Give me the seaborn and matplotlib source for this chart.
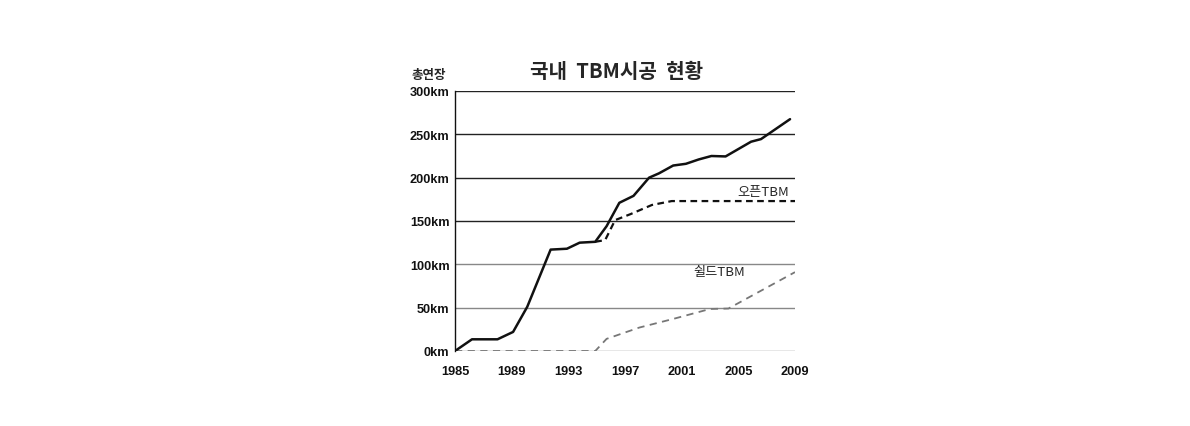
import matplotlib
matplotlib.use("Agg")
import matplotlib.pyplot as plt
import seaborn as sns
import pandas as pd

# ---- data (km) ----
total_years = [1985, 1986.2, 1988.0, 1989.1, 1990.1, 1991.75, 1992.9, 1993.8, 1994.9,
               1995.7, 1996.6, 1997.6, 1998.7, 1999.4, 2000.4, 2001.3, 2002.2, 2003.1,
               2004.1, 2005.9, 2006.6, 2008.65]
total_km = [0, 13.5, 13.5, 22, 51, 117, 118, 125, 126,
            144, 171, 179, 200, 205, 214, 216, 221, 225,
            224.5, 241.5, 244.5, 267.5]

open_years = [1994.9, 1995.6, 1996.3, 1997.4, 1998.9, 2000.3, 2009]
open_km = [126, 128, 151, 158, 168.5, 173, 173]

shield_years = [1985, 1994.9, 1995.7, 1998.0, 2000.4, 2003.0, 2004.3, 2009]
shield_km = [0, 0, 14, 27, 37, 48.5, 49, 91]

x_ticks = [1985, 1989, 1993, 1997, 2001, 2005, 2009]
y_ticks = [0, 50, 100, 150, 200, 250, 300]
y_labels = [f"{v}km" for v in y_ticks]

title = "국내  TBM시공  현황"
y_title = "총연장"
open_label = "오픈TBM"
shield_label = "쉴드TBM"

sns.set_theme(style="white")
plt.rcParams['font.family'] = ['Noto Sans CJK KR', 'DejaVu Sans']

fig = plt.figure(figsize=(11.9, 4.27), dpi=100)
ax = fig.add_axes([455/1190, 1-352/427, 340/1190, 260/427])

df_total = pd.DataFrame({"year": total_years, "km": total_km})
df_open = pd.DataFrame({"year": open_years, "km": open_km})
df_shield = pd.DataFrame({"year": shield_years, "km": shield_km})

# grid lines
for v in y_ticks:
    col = "#222222" if v >= 150 else "#888888"
    ax.axhline(v, color=col, lw=1.0, zorder=0)

sns.lineplot(data=df_shield, x="year", y="km", ax=ax, color="#777777", lw=1.3,
             linestyle=(0, (4, 3)), zorder=2)
sns.lineplot(data=df_open, x="year", y="km", ax=ax, color="#111111", lw=1.6,
             linestyle=(0, (3, 2)), zorder=3)
sns.lineplot(data=df_total, x="year", y="km", ax=ax, color="#111111", lw=1.8, zorder=4)

tick_font = dict(family=["Liberation Sans"], size=9.2, weight="bold")

ax.set_xlim(1985, 2009)
ax.set_ylim(0, 300)
ax.set_xticks(x_ticks)
ax.set_xticklabels([str(t) for t in x_ticks], fontdict=tick_font)
ax.set_yticks(y_ticks)
ax.set_yticklabels(y_labels, fontdict=tick_font)
ax.set_xlabel("")
ax.set_ylabel("")
ax.tick_params(axis="x", length=0, pad=10, colors="#111111")
ax.tick_params(axis="y", length=0, pad=4, colors="#111111")

for s in ["top", "right", "bottom"]:
    ax.spines[s].set_visible(False)
ax.spines["left"].set_color("#111111")
ax.spines["left"].set_linewidth(1.0)

fig.text(617/1190, 1-72/427, title, ha="center", va="center", fontsize=14.5, fontweight="bold")
fig.text(429/1190, 1-75/427, y_title, ha="center", va="center", fontsize=9, fontweight="bold")
ax.text(2008.6, 184.5, open_label, ha="right", va="center", fontsize=9.5)
ax.text(2005.5, 92, shield_label, ha="right", va="center", fontsize=9.5)

fig.savefig("out.png", dpi=100, facecolor="white")
